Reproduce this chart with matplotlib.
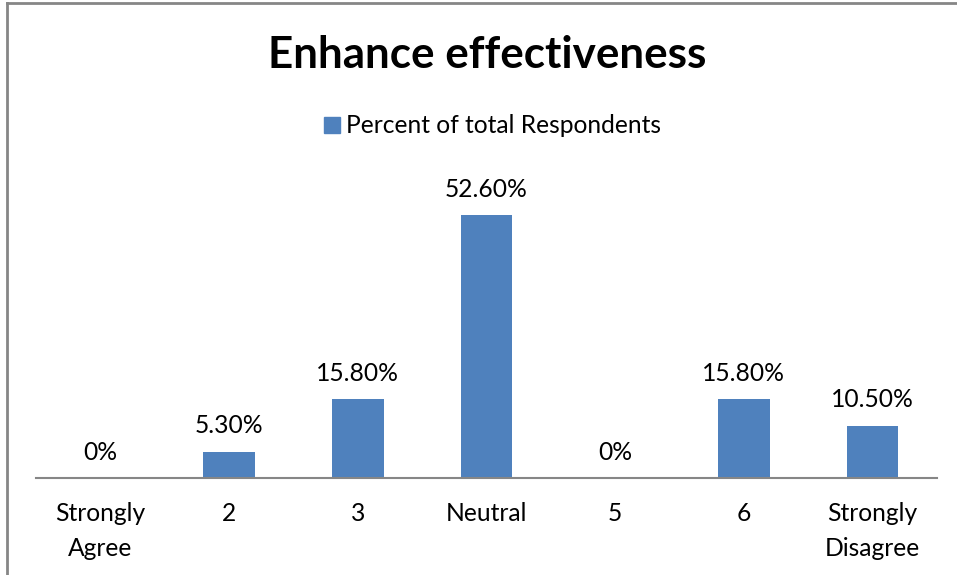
import numpy as np
import matplotlib.pyplot as plt
from matplotlib.lines import Line2D

plt.rcParams['font.family'] = ['Lato', 'DejaVu Sans']

categories = ["Strongly\nAgree", "2", "3", "Neutral", "5", "6", "Strongly\nDisagree"]
percent = [0, 5.3, 15.8, 52.6, 0, 15.8, 10.5]
value_labels = ["0%", "5.30%", "15.80%", "52.60%", "0%", "15.80%", "10.50%"]

bar_color = "#4F81BD"
grey = "#868686"
fs = 17.7

fig = plt.figure(figsize=(9.57, 5.75), dpi=100)
ax = fig.add_axes([36/957, 97/575, 901/957, 300/575])

x = np.arange(len(categories))
ax.bar(x, percent, width=0.4, color=bar_color, zorder=2)

# value labels above each bar
for xi, v, lab in zip(x, percent, value_labels):
    ax.annotate(lab, (xi, v), xytext=(0, 18.5), textcoords="offset points",
                ha="center", va="center", fontsize=fs, color="black")

ax.set_xlim(-0.5, len(categories) - 0.5)
ax.set_ylim(0, 60)
ax.set_xticks(x)
ax.set_xticklabels(categories, fontsize=fs, linespacing=1.64, va="top")
ax.tick_params(axis="x", length=0, pad=17.5)
ax.set_yticks([])
for s in ["top", "right", "left"]:
    ax.spines[s].set_visible(False)
ax.spines["bottom"].set_color(grey)
ax.spines["bottom"].set_linewidth(1.5)

fig.text(487/957, 1 - 55/575, "Enhance effectiveness", ha="center", va="center",
         fontsize=31.7, fontweight="bold")

# legend entry
fig.legend(handles=[Line2D([], [], marker="s", linestyle="none", markersize=11,
                           color=bar_color)],
           labels=["Percent of total Respondents"], loc="center",
           bbox_to_anchor=(491/957, 1 - 126/575), frameon=False, fontsize=fs,
           handletextpad=0.1, handlelength=0.9)

# chart area border (left and top edges)
fig.add_artist(Line2D([7/957, 7/957], [0, 1 - 3/575], transform=fig.transFigure,
                      color=grey, linewidth=2))
fig.add_artist(Line2D([7/957, 1], [1 - 3/575, 1 - 3/575], transform=fig.transFigure,
                      color=grey, linewidth=2))

fig.savefig("out.png", dpi=100)
